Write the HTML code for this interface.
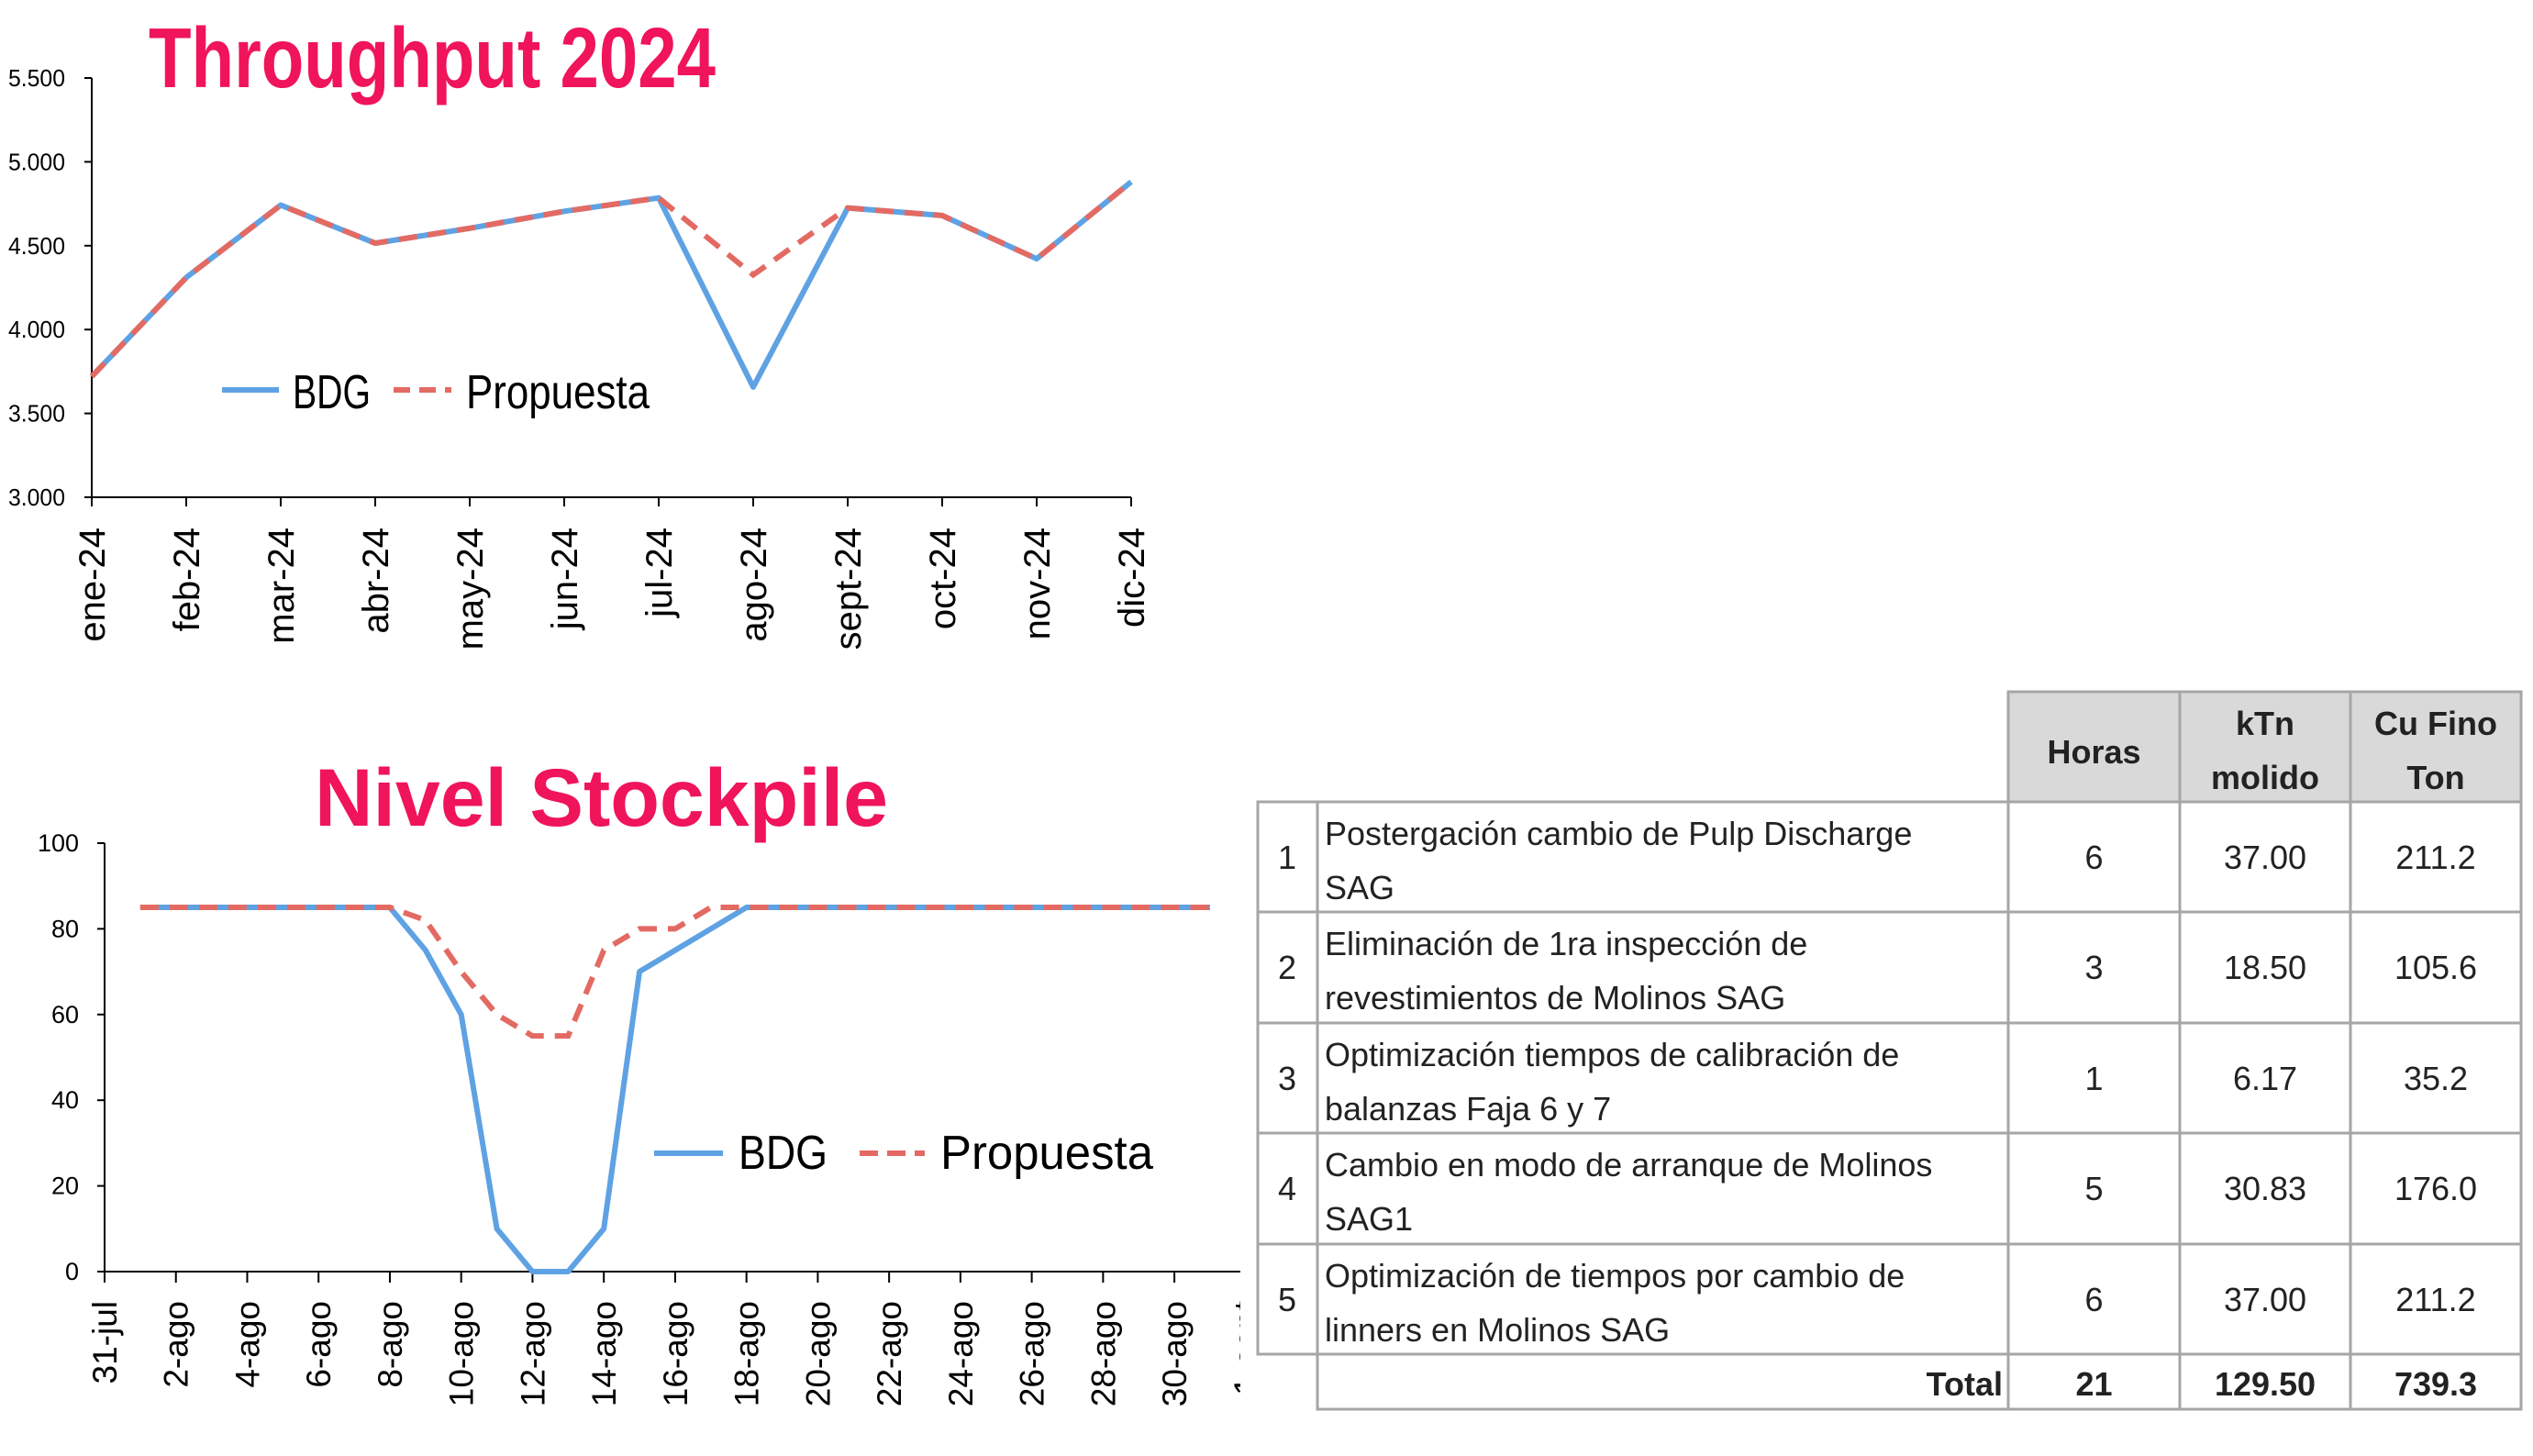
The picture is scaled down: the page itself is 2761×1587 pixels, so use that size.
<!DOCTYPE html>
<html><head><meta charset="utf-8">
<style>
html,body{margin:0;padding:0;background:#fff;}
body{width:2761px;height:1582px;overflow:hidden;position:relative;font-family:"Liberation Sans",sans-serif;}
svg text{font-family:"Liberation Sans",sans-serif;}
</style></head>
<body>
<svg id="root" width="2761" height="1582" viewBox="0 0 2761 1582" xmlns="http://www.w3.org/2000/svg">
  <defs><clipPath id="c2"><rect x="0" y="780" width="1352" height="802"/></clipPath></defs>
  <g id="chart1">
    <text x="162" y="95" font-size="93" font-weight="bold" fill="#f0145a" textLength="618" lengthAdjust="spacingAndGlyphs">Throughput 2024</text>
  </g>
  <g id="chart2" clip-path="url(#c2)">
    <text x="343" y="900" font-size="89" font-weight="bold" fill="#f0145a" textLength="625" lengthAdjust="spacingAndGlyphs">Nivel Stockpile</text>
  </g>
  <g id="table"></g>
</svg>
<script>
const NS='http://www.w3.org/2000/svg';
function mk(parent,tag,attrs,txt){const e=document.createElementNS(NS,tag);for(const k in attrs)e.setAttribute(k,attrs[k]);if(txt!==undefined)e.textContent=txt;parent.appendChild(e);return e;}
const BLUE='#5fa2e3', RED='#e36a63';

// ---------- Chart 1 data ----------
const months=['ene-24','feb-24','mar-24','abr-24','may-24','jun-24','jul-24','ago-24','sept-24','oct-24','nov-24','dic-24'];
const bdgT=[3720,4310,4742,4515,4604,4705,4785,3657,4725,4680,4422,4881];
const propT=[3720,4310,4742,4515,4604,4705,4785,4326,4725,4680,4422,4881];
const yTicks1=['3.000','3.500','4.000','4.500','5.000','5.500'];
const yVals1=[3000,3500,4000,4500,5000,5500];

(function(){
  const g=document.getElementById('chart1');
  const X0=100,X1=1233,Y0=542,Y1=85,vmin=3000,vmax=5500;
  const xs=i=>X0+(X1-X0)*i/(months.length-1);
  const ys=v=>Y0-(v-vmin)/(vmax-vmin)*(Y0-Y1);
  let e=mk(g,'line',{x1:X0,y1:Y1,x2:X0,y2:Y0,stroke:'#000','stroke-width':2});
  
  
  e=mk(g,'line',{x1:X0,y1:Y0,x2:X1,y2:Y0,stroke:'#000','stroke-width':2});
  
  
  yVals1.forEach((v,i)=>{
    mk(g,'line',{x1:X0-8,y1:ys(v),x2:X0,y2:ys(v),stroke:'#000','stroke-width':2});
    const t=mk(g,'text',{x:71,y:ys(v)+9,'font-size':26,'text-anchor':'end',fill:'#000',textLength:62,lengthAdjust:'spacingAndGlyphs'},yTicks1[i]);
    
    
  });
  months.forEach((m,i)=>{
    const x=xs(i);
    mk(g,'line',{x1:x,y1:Y0,x2:x,y2:Y0+10,stroke:'#000','stroke-width':2});
    const t=mk(g,'text',{transform:`translate(${x+14},575) rotate(-90)`,'font-size':40,'text-anchor':'end',fill:'#000'},m);
    
    
  });
  let p=mk(g,'polyline',{points:bdgT.map((v,i)=>xs(i)+','+ys(v)).join(' '),fill:'none',stroke:BLUE,'stroke-width':6,'stroke-linejoin':'round'});
  
  
  p=mk(g,'polyline',{points:propT.map((v,i)=>xs(i)+','+ys(v)).join(' '),fill:'none',stroke:RED,'stroke-width':6,'stroke-dasharray':'20 12'});
  
  
  const lg=mk(g,'g',{});
  
  
  mk(lg,'line',{x1:242,y1:425,x2:304,y2:425,stroke:BLUE,'stroke-width':6});
  let t=mk(lg,'text',{x:319,y:445,'font-size':52,fill:'#000',textLength:85,lengthAdjust:'spacingAndGlyphs'},'BDG');
  
  
  mk(lg,'line',{x1:429,y1:425,x2:492,y2:425,stroke:RED,'stroke-width':6,'stroke-dasharray':'18 10'});
  t=mk(lg,'text',{x:508,y:445,'font-size':52,fill:'#000',textLength:200,lengthAdjust:'spacingAndGlyphs'},'Propuesta');
  
  
})();

// ---------- Chart 2 data ----------
const dayLabels=['31-jul','2-ago','4-ago','6-ago','8-ago','10-ago','12-ago','14-ago','16-ago','18-ago','20-ago','22-ago','24-ago','26-ago','28-ago','30-ago','1-sept'];
const bdgS=[85,85,85,85,85,85,85,85,75,60,10,0,0,10,70,75,80,85,85,85,85,85,85,85,85,85,85,85,85,85,85];
const propS=[85,85,85,85,85,85,85,85,82,70,60,55,55,75,80,80,85,85,85,85,85,85,85,85,85,85,85,85,85,85,85];
const yTicks2=['0','20','40','60','80','100'];
const yVals2=[0,20,40,60,80,100];

(function(){
  const g=document.getElementById('chart2');
  const X0=114,DAY=38.87,Y0=1386,Y1=919;
  const xs=d=>X0+DAY*d;
  const ys=v=>Y0-v/100*(Y0-Y1);
  let e=mk(g,'line',{x1:X0,y1:Y1,x2:X0,y2:Y0,stroke:'#000','stroke-width':2});
  
  
  e=mk(g,'line',{x1:X0,y1:Y0,x2:1352,y2:Y0,stroke:'#000','stroke-width':2});
  
  
  yVals2.forEach((v,i)=>{
    mk(g,'line',{x1:X0-8,y1:ys(v),x2:X0,y2:ys(v),stroke:'#000','stroke-width':2});
    const t=mk(g,'text',{x:86,y:ys(v)+9,'font-size':27,'text-anchor':'end',fill:'#000'},yTicks2[i]);
    
    
  });
  dayLabels.forEach((m,i)=>{
    const x=xs(i*2);
    mk(g,'line',{x1:x,y1:Y0,x2:x,y2:Y0+12,stroke:'#000','stroke-width':2});
    const t=mk(g,'text',{transform:`translate(${x+13},1418) rotate(-90)`,'font-size':37,'text-anchor':'end',fill:'#000'},m);
    
    
  });
  let p=mk(g,'polyline',{points:bdgS.map((v,i)=>xs(i+1)+','+ys(v)).join(' '),fill:'none',stroke:BLUE,'stroke-width':6,'stroke-linejoin':'round'});
  
  
  p=mk(g,'polyline',{points:propS.map((v,i)=>xs(i+1)+','+ys(v)).join(' '),fill:'none',stroke:RED,'stroke-width':6,'stroke-dasharray':'20 12'});
  
  
  const lg=mk(g,'g',{});
  
  
  mk(lg,'line',{x1:713,y1:1257,x2:788,y2:1257,stroke:BLUE,'stroke-width':6});
  let t=mk(lg,'text',{x:805,y:1274,'font-size':52,fill:'#000',textLength:97,lengthAdjust:'spacingAndGlyphs'},'BDG');
  
  
  mk(lg,'line',{x1:937,y1:1257,x2:1008,y2:1257,stroke:RED,'stroke-width':6,'stroke-dasharray':'20 10'});
  t=mk(lg,'text',{x:1025,y:1274,'font-size':52,fill:'#000',textLength:232,lengthAdjust:'spacingAndGlyphs'},'Propuesta');
  
  
})();

// ---------- Table ----------
const rowNums=['1','2','3','4','5'];
const rowDesc=[['Postergación cambio de Pulp Discharge','SAG'],['Eliminación de 1ra inspección de','revestimientos de Molinos SAG'],['Optimización tiempos de calibración de','balanzas Faja 6 y 7'],['Cambio en modo de arranque de Molinos','SAG1'],['Optimización de tiempos por cambio de','linners en Molinos SAG']];
const horas=['6','3','1','5','6'];
const ktn=['37.00','18.50','6.17','30.83','37.00'];
const cu=['211.2','105.6','35.2','176.0','211.2'];
const totals=['21','129.50','739.3'];

(function(){
  const g=document.getElementById('table');
  const cx=[2189,2376,2562,2748];
  const rowY=[874,994,1115,1235,1356,1476];
  const B='#a6a6a6';
  const hd=mk(g,'rect',{x:cx[0],y:754,width:cx[3]-cx[0],height:120,fill:'#d9d9d9',stroke:B,'stroke-width':3});
  
  
  mk(g,'line',{x1:cx[1],y1:754,x2:cx[1],y2:1536,stroke:B,'stroke-width':3});
  mk(g,'line',{x1:cx[2],y1:754,x2:cx[2],y2:1536,stroke:B,'stroke-width':3});
  const hs={'font-size':36,'font-weight':'bold','text-anchor':'middle',fill:'#222'};
  let t=mk(g,'text',Object.assign({x:(cx[0]+cx[1])/2,y:832},hs),'Horas');
  
  
  t=mk(g,'text',Object.assign({x:(cx[1]+cx[2])/2,y:801},hs),'kTn');
  
  
  mk(g,'text',Object.assign({x:(cx[1]+cx[2])/2,y:860},hs),'molido');
  t=mk(g,'text',Object.assign({x:(cx[2]+cx[3])/2,y:801},hs),'Cu Fino');
  
  
  mk(g,'text',Object.assign({x:(cx[2]+cx[3])/2,y:860},hs),'Ton');
  mk(g,'rect',{x:1371,y:874,width:cx[3]-1371,height:602,fill:'none',stroke:B,'stroke-width':3});
  mk(g,'rect',{x:1436,y:1476,width:cx[3]-1436,height:60,fill:'none',stroke:B,'stroke-width':3});
  mk(g,'line',{x1:1436,y1:874,x2:1436,y2:1476,stroke:B,'stroke-width':3});
  mk(g,'line',{x1:cx[0],y1:874,x2:cx[0],y2:1536,stroke:B,'stroke-width':3});
  const ts={'font-size':36,fill:'#222'};
  rowNums.forEach((n,i)=>{
    const top=rowY[i];
    if(i>0) mk(g,'line',{x1:1371,y1:top,x2:cx[3],y2:top,stroke:B,'stroke-width':3});
    const r=mk(g,'g',{});
    
    
    const mid=top+60;
    mk(r,'text',Object.assign({x:1403,y:mid+13,'text-anchor':'middle'},ts),n);
    mk(r,'text',Object.assign({x:1444,y:top+47},ts),rowDesc[i][0]);
    mk(r,'text',Object.assign({x:1444,y:top+106},ts),rowDesc[i][1]);
    mk(r,'text',Object.assign({x:(cx[0]+cx[1])/2,y:mid+13,'text-anchor':'middle'},ts),horas[i]);
    mk(r,'text',Object.assign({x:(cx[1]+cx[2])/2,y:mid+13,'text-anchor':'middle'},ts),ktn[i]);
    mk(r,'text',Object.assign({x:(cx[2]+cx[3])/2,y:mid+13,'text-anchor':'middle'},ts),cu[i]);
  });
  const tr=mk(g,'g',{});
  
  
  const bs={'font-size':36,'font-weight':'bold',fill:'#222'};
  mk(tr,'text',Object.assign({x:cx[0]-6,y:1521,'text-anchor':'end'},bs),'Total');
  totals.forEach((v,i)=>mk(tr,'text',Object.assign({x:(cx[i]+cx[i+1])/2,y:1521,'text-anchor':'middle'},bs),v));
})();
</script>
</body></html>
